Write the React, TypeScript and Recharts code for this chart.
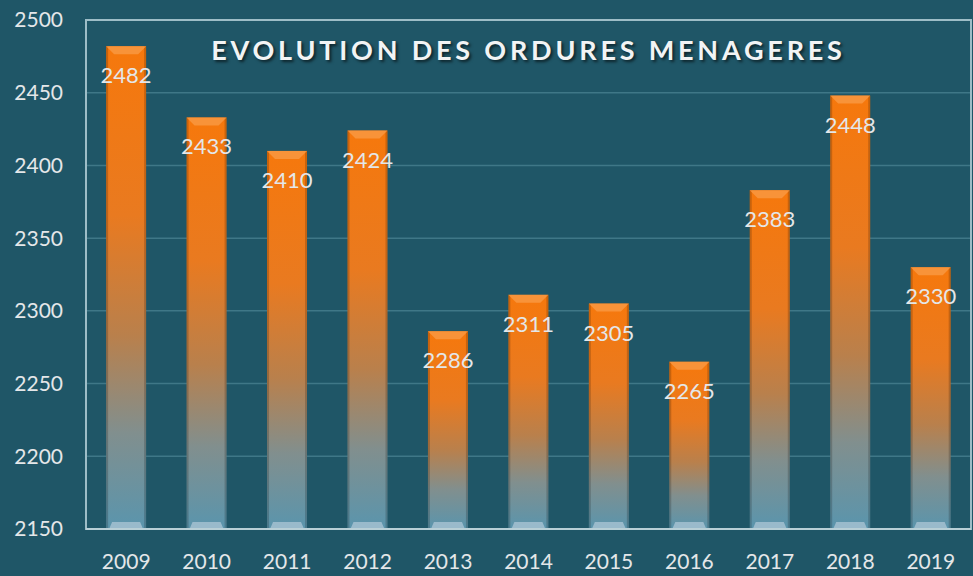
import { BarChart, Bar, XAxis, YAxis, CartesianGrid, ReferenceArea, LabelList } from "recharts";

const years = ["2009", "2010", "2011", "2012", "2013", "2014", "2015", "2016", "2017", "2018", "2019"];
const tonnes = [2482, 2433, 2410, 2424, 2286, 2311, 2305, 2265, 2383, 2448, 2330];
const yTicks = [2150, 2200, 2250, 2300, 2350, 2400, 2450, 2500];

const data = years.map((year, i) => ({ year, value: tonnes[i] }));

const FONT = "Lato, 'Open Sans', sans-serif";

// bar with orange-to-steel gradient, a bevel on top and a pale foot
function GlossyBar(props: any) {
  const { x, y, width, height } = props;
  if (!height || height <= 0) return null;
  const bevel = 8;
  return (
    <g>
      <rect x={x} y={y} width={width} height={height} fill="url(#barFill)" />
      <rect x={x} y={y} width={2} height={height} fill="#000" opacity={0.18} />
      <rect x={x + width - 2} y={y} width={2} height={height} fill="#000" opacity={0.18} />
      <polygon
        points={`${x},${y} ${x + width},${y} ${x + width - bevel},${y + bevel} ${x + bevel},${y + bevel}`}
        fill="#f99a45"
        opacity={0.8}
      />
      <polygon
        points={`${x + 3},${y + height} ${x + width - 3},${y + height} ${x + width - 6},${y + height - 7} ${x + 6},${y + height - 7}`}
        fill="#a9c3d3"
        opacity={0.8}
      />
    </g>
  );
}

function ValueLabel(props: any) {
  const { x, y, width, value } = props;
  return (
    <text
      x={x + width / 2}
      y={y + 37}
      textAnchor="middle"
      fill="#e4e7e9"
      fontSize={22}
      fontFamily={FONT}
    >
      {value}
    </text>
  );
}

export default function App() {
  return (
    <div style={{ position: "absolute", left: 0, top: 0, width: 973, height: 576, background: "#1f5667" }}>
      <BarChart
        width={973}
        height={576}
        data={data}
        margin={{ top: 20, right: 2, left: 0, bottom: 0 }}
        barCategoryGap="25%"
      >
        <defs>
          <linearGradient id="barFill" x1="0" y1="0" x2="0" y2="1">
            <stop offset="0%" stopColor="#f6780c" />
            <stop offset="35%" stopColor="#e97a20" />
            <stop offset="60%" stopColor="#b9804c" />
            <stop offset="80%" stopColor="#818f8e" />
            <stop offset="100%" stopColor="#5a95ad" />
          </linearGradient>
        </defs>
        <CartesianGrid vertical={false} stroke="#3f7787" strokeWidth={1.5} />
        <ReferenceArea y1={2150} y2={2500} fill="none" stroke="#9dbdc7" strokeWidth={2} ifOverflow="visible" />
        <XAxis
          dataKey="year"
          height={47}
          axisLine={{ stroke: "#b8cfd6", strokeWidth: 2 }}
          tickLine={false}
          tickSize={0}
          tickMargin={25}
          tick={{ fill: "#e4e7e9", fontSize: 21, fontFamily: FONT }}
        />
        <YAxis
          domain={[2150, 2500]}
          ticks={yTicks}
          width={86}
          axisLine={false}
          tickLine={false}
          tickSize={0}
          tickMargin={23}
          interval={0}
          tick={{ fill: "#e4e7e9", fontSize: 21, fontFamily: FONT }}
        />
        <Bar dataKey="value" shape={<GlossyBar />} isAnimationActive={false}>
          <LabelList dataKey="value" content={<ValueLabel />} />
        </Bar>
      </BarChart>
      <div
        style={{
          position: "absolute",
          left: 86,
          width: 885,
          top: 33,
          textAlign: "center",
          color: "#f2f4f5",
          fontFamily: FONT,
          fontWeight: 700,
          fontSize: 27,
          letterSpacing: 3.8,
          textShadow: "2px 2px 3px rgba(0,0,0,0.6)",
        }}
      >
        EVOLUTION DES ORDURES MENAGERES
      </div>
    </div>
  );
}
